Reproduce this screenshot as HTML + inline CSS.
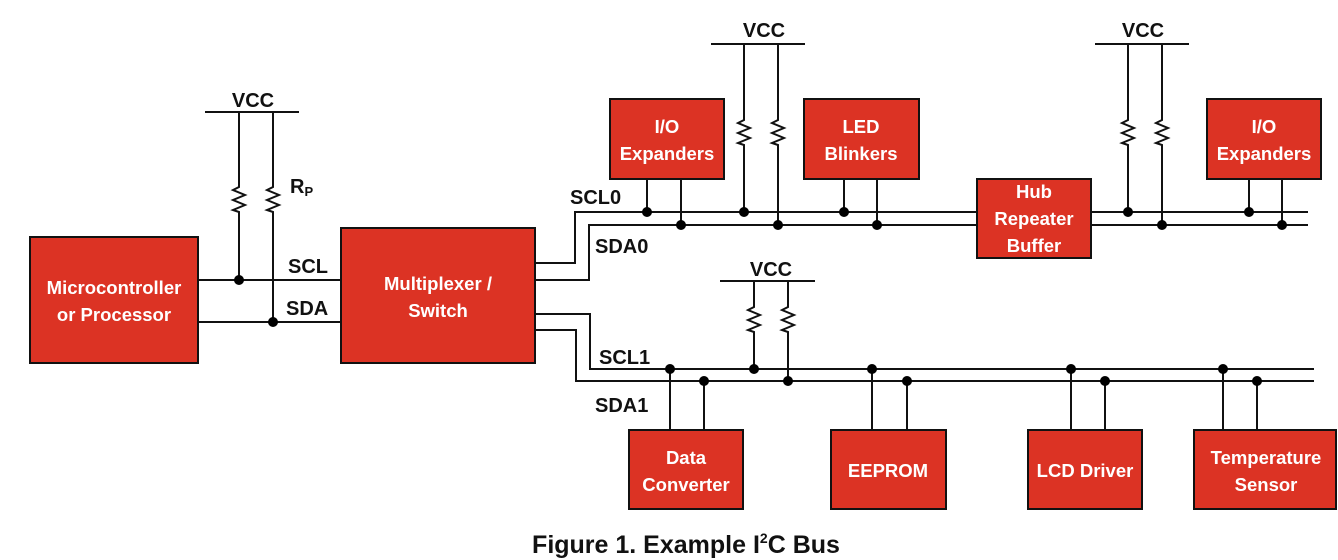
<!DOCTYPE html>
<html><head><meta charset="utf-8"><style>
html,body{margin:0;padding:0;background:#fff;}
svg{display:block;}
.b{fill:#DC3324;stroke:#111;stroke-width:2;}
.t{fill:#fff;font-family:"Liberation Sans",sans-serif;font-weight:bold;font-size:18.5px;text-anchor:middle;}
.l{fill:#111;font-family:"Liberation Sans",sans-serif;font-weight:bold;font-size:20px;}
.w{stroke:#111;stroke-width:2;fill:none;}
</style></head><body>
<svg width="1338" height="560" viewBox="0 0 1338 560" xmlns="http://www.w3.org/2000/svg">
<defs>
<g id="r"><polyline class="w" points="0,0 0,2 -6,5 6,10 -6,15 6,20 -6,25 0,27 0,29"/></g>
</defs>
<!-- left VCC -->
<line class="w" x1="205" y1="112" x2="299" y2="112"/>
<text class="l" x="253" y="107" text-anchor="middle">VCC</text>
<line class="w" x1="239" y1="112" x2="239" y2="185"/><use href="#r" x="239" y="185"/><line class="w" x1="239" y1="214" x2="239" y2="280"/>
<line class="w" x1="273" y1="112" x2="273" y2="185"/><use href="#r" x="273" y="185"/><line class="w" x1="273" y1="214" x2="273" y2="322"/>
<text class="l" x="290" y="193">R<tspan font-size="13" dy="3">P</tspan></text>
<line class="w" x1="198" y1="280" x2="341" y2="280"/>
<line class="w" x1="198" y1="322" x2="341" y2="322"/>
<circle cx="239" cy="280" r="5"/><circle cx="273" cy="322" r="5"/>
<text class="l" x="288" y="273">SCL</text>
<text class="l" x="286" y="315">SDA</text>
<rect class="b" x="30" y="237" width="168" height="126"/>
<text class="t" x="114" y="294">Microcontroller</text><text class="t" x="114" y="321">or Processor</text>
<rect class="b" x="341" y="228" width="194" height="135"/>
<text class="t" x="438" y="290">Multiplexer /</text><text class="t" x="438" y="317">Switch</text>
<!-- mux outputs -->
<polyline class="w" points="535,263 575,263 575,212 1308,212"/>
<polyline class="w" points="535,280 589,280 589,225 1308,225"/>
<polyline class="w" points="535,314 590,314 590,369 1314,369"/>
<polyline class="w" points="535,330 576,330 576,381 1314,381"/>
<text class="l" x="570" y="204">SCL0</text>
<text class="l" x="595" y="253">SDA0</text>
<text class="l" x="599" y="364">SCL1</text>
<text class="l" x="595" y="412">SDA1</text>
<!-- top VCC 1 -->
<line class="w" x1="711" y1="44" x2="805" y2="44"/>
<text class="l" x="764" y="37" text-anchor="middle">VCC</text>
<line class="w" x1="744" y1="44" x2="744" y2="118"/><use href="#r" x="744" y="118"/><line class="w" x1="744" y1="147" x2="744" y2="212"/>
<line class="w" x1="778" y1="44" x2="778" y2="118"/><use href="#r" x="778" y="118"/><line class="w" x1="778" y1="147" x2="778" y2="225"/>
<!-- top VCC 2 -->
<line class="w" x1="1095" y1="44" x2="1189" y2="44"/>
<text class="l" x="1143" y="37" text-anchor="middle">VCC</text>
<line class="w" x1="1128" y1="44" x2="1128" y2="118"/><use href="#r" x="1128" y="118"/><line class="w" x1="1128" y1="147" x2="1128" y2="212"/>
<line class="w" x1="1162" y1="44" x2="1162" y2="118"/><use href="#r" x="1162" y="118"/><line class="w" x1="1162" y1="147" x2="1162" y2="225"/>
<!-- top device stubs -->
<line class="w" x1="647" y1="179" x2="647" y2="212"/><line class="w" x1="681" y1="179" x2="681" y2="225"/>
<line class="w" x1="844" y1="179" x2="844" y2="212"/><line class="w" x1="877" y1="179" x2="877" y2="225"/>
<line class="w" x1="1249" y1="179" x2="1249" y2="212"/><line class="w" x1="1282" y1="179" x2="1282" y2="225"/>
<g>
<circle cx="647" cy="212" r="5"/><circle cx="681" cy="225" r="5"/>
<circle cx="744" cy="212" r="5"/><circle cx="778" cy="225" r="5"/>
<circle cx="844" cy="212" r="5"/><circle cx="877" cy="225" r="5"/>
<circle cx="1128" cy="212" r="5"/><circle cx="1162" cy="225" r="5"/>
<circle cx="1249" cy="212" r="5"/><circle cx="1282" cy="225" r="5"/>
</g>
<rect class="b" x="610" y="99" width="114" height="80"/>
<text class="t" x="667" y="133">I/O</text><text class="t" x="667" y="160">Expanders</text>
<rect class="b" x="804" y="99" width="115" height="80"/>
<text class="t" x="861" y="133">LED</text><text class="t" x="861" y="160">Blinkers</text>
<rect class="b" x="977" y="179" width="114" height="79"/>
<text class="t" x="1034" y="198">Hub</text><text class="t" x="1034" y="225">Repeater</text><text class="t" x="1034" y="252">Buffer</text>
<rect class="b" x="1207" y="99" width="114" height="80"/>
<text class="t" x="1264" y="133">I/O</text><text class="t" x="1264" y="160">Expanders</text>
<!-- bottom VCC -->
<line class="w" x1="720" y1="281" x2="815" y2="281"/>
<text class="l" x="771" y="276" text-anchor="middle">VCC</text>
<line class="w" x1="754" y1="281" x2="754" y2="305"/><use href="#r" x="754" y="305"/><line class="w" x1="754" y1="334" x2="754" y2="369"/>
<line class="w" x1="788" y1="281" x2="788" y2="305"/><use href="#r" x="788" y="305"/><line class="w" x1="788" y1="334" x2="788" y2="381"/>
<!-- bottom stubs -->
<line class="w" x1="670" y1="369" x2="670" y2="430"/><line class="w" x1="704" y1="381" x2="704" y2="430"/>
<line class="w" x1="872" y1="369" x2="872" y2="430"/><line class="w" x1="907" y1="381" x2="907" y2="430"/>
<line class="w" x1="1071" y1="369" x2="1071" y2="430"/><line class="w" x1="1105" y1="381" x2="1105" y2="430"/>
<line class="w" x1="1223" y1="369" x2="1223" y2="430"/><line class="w" x1="1257" y1="381" x2="1257" y2="430"/>
<g>
<circle cx="670" cy="369" r="5"/><circle cx="704" cy="381" r="5"/>
<circle cx="754" cy="369" r="5"/><circle cx="788" cy="381" r="5"/>
<circle cx="872" cy="369" r="5"/><circle cx="907" cy="381" r="5"/>
<circle cx="1071" cy="369" r="5"/><circle cx="1105" cy="381" r="5"/>
<circle cx="1223" cy="369" r="5"/><circle cx="1257" cy="381" r="5"/>
</g>
<rect class="b" x="629" y="430" width="114" height="79"/>
<text class="t" x="686" y="464">Data</text><text class="t" x="686" y="491">Converter</text>
<rect class="b" x="831" y="430" width="115" height="79"/>
<text class="t" x="888" y="477">EEPROM</text>
<rect class="b" x="1028" y="430" width="114" height="79"/>
<text class="t" x="1085" y="477">LCD Driver</text>
<rect class="b" x="1194" y="430" width="142" height="79"/>
<text class="t" x="1266" y="464">Temperature</text><text class="t" x="1266" y="491">Sensor</text>
<text x="686" y="553" text-anchor="middle" font-family="Liberation Sans, sans-serif" font-weight="bold" font-size="25" fill="#111">Figure 1. Example I<tspan font-size="14" dy="-10">2</tspan><tspan dy="10">C Bus</tspan></text>
</svg>
</body></html>
